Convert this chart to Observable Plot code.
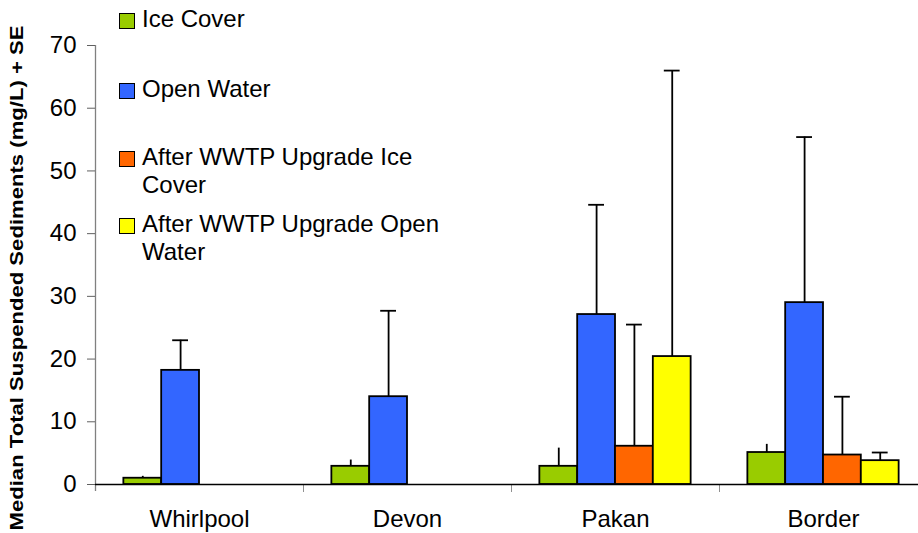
<!DOCTYPE html>
<html><head><meta charset="utf-8">
<script src="https://cdn.jsdelivr.net/npm/d3@7"></script>
<script src="https://cdn.jsdelivr.net/npm/@observablehq/plot@0.6"></script>
<style>
body{margin:0;background:#fff;}
#wrap{position:relative;width:918px;height:533px;overflow:hidden;font-family:"Liberation Sans",Arial,sans-serif;background:#fff;}
#wrap svg{position:absolute;left:0;top:0;}
.item{position:absolute;left:142px;font-size:24px;line-height:28px;color:#000;white-space:nowrap;}
.sw{position:absolute;left:-23px;top:8px;width:16px;height:16px;box-sizing:border-box;border:1.5px solid #000;}
</style></head><body><div id="wrap"></div>
<script>
// ---- data ----
const sites = ["Whirlpool", "Devon", "Pakan", "Border"];
const series = ["Ice Cover", "Open Water", "After WWTP Upgrade Ice Cover", "After WWTP Upgrade Open Water"];
const seriesColors = ["#99CC00", "#3366FF", "#FF6600", "#FFFF00"];
const seriesHasCap = [false, true, true, true];
const iceCover = [1.0, 2.9, 2.9, 5.1];
const openWater = [18.2, 14.0, 27.1, 29.0];
const afterIceCover = [null, null, 6.1, 4.7];
const afterOpenWater = [null, null, 20.4, 3.8];
const iceCoverSE = [0.3, 1.0, 2.9, 1.3];
const openWaterSE = [4.8, 13.7, 17.5, 26.4];
const afterIceCoverSE = [null, null, 19.4, 9.3];
const afterOpenWaterSE = [null, null, 45.6, 1.3];
const yTicks = [0, 10, 20, 30, 40, 50, 60, 70];
const yTitle = "Median Total Suspended Sediments (mg/L) + SE";
const legendLines = [["Ice Cover"], ["Open Water"], ["After WWTP Upgrade Ice", "Cover"], ["After WWTP Upgrade Open", "Water"]];
const legendTops = [5, 75, 143, 210];

// ---- build table ----
const values = [iceCover, openWater, afterIceCover, afterOpenWater];
const ses = [iceCoverSE, openWaterSE, afterIceCoverSE, afterOpenWaterSE];
const barFrac = 1 / 5.5, padFrac = 0.75 / 5.5; // Excel gap width 150%
const rows = sites.flatMap((site, i) => series.map((s, k) => ({site, i, k, series: s, value: values[k][i], se: ses[k][i]})))
  .filter(d => d.value != null)
  .map(d => {
    const x1 = d.i + padFrac + d.k * barFrac;
    return {...d, x1, x2: x1 + barFrac, xc: x1 + barFrac / 2, top: d.value + d.se};
  });

const chart = Plot.plot({
  width: 918, height: 533,
  marginLeft: 95, marginRight: -9, marginTop: 45, marginBottom: 49,
  x: {domain: [0, sites.length]},
  y: {domain: [0, 70]},
  color: {domain: series, range: seriesColors},
  style: {fontFamily: "'Liberation Sans', Arial, sans-serif", background: "white", color: "black"},
  marks: [
    Plot.ruleX([0], {stroke: "#808080", strokeWidth: 1.3, insetBottom: -7}),
    Plot.axisY({ticks: yTicks, tickSize: 8, tickPadding: 11, fontSize: 24, label: null, stroke: "#606060"}),
    Plot.axisX({ticks: d3.range(1, sites.length + 1), tickFormat: () => "", tickSize: 8, label: null, stroke: "#909090"}),
    Plot.axisX({ticks: sites.map((d, i) => i + 0.5), tickFormat: v => sites[Math.floor(v)], tickSize: 0, tickPadding: 25, fontSize: 24, label: null}),
    Plot.rectY(rows, {x1: "x1", x2: "x2", y: "value", fill: "series", stroke: "#000", strokeWidth: 1.8}),
    Plot.ruleX(rows, {x: "xc", y1: "value", y2: "top", stroke: "#000", strokeWidth: 1.8}),
    Plot.ruleY(rows.filter(d => seriesHasCap[d.k]), {x1: "x1", x2: "x2", y: "top", insetLeft: 11, insetRight: 11, stroke: "#000", strokeWidth: 1.8}),
    Plot.ruleY([0], {stroke: "#000", strokeWidth: 1.5}),
    Plot.text([yTitle], {frameAnchor: "left", rotate: -90, dx: -78, dy: 13, fontWeight: "bold", fontSize: 18, textAnchor: "middle", lineAnchor: "middle"})
  ]
});
const wrap = document.getElementById("wrap");
wrap.appendChild(chart);
d3.select(chart).selectAll("text").filter(function() { return this.textContent === yTitle; })
  .attr("textLength", 505).attr("lengthAdjust", "spacingAndGlyphs");

// ---- legend overlay ----
legendLines.forEach((lines, k) => {
  const item = document.createElement("div");
  item.className = "item";
  item.style.top = legendTops[k] + "px";
  const sw = document.createElement("div");
  sw.className = "sw";
  sw.style.background = seriesColors[k];
  item.appendChild(sw);
  lines.forEach((t, j) => {
    if (j) item.appendChild(document.createElement("br"));
    item.appendChild(document.createTextNode(t));
  });
  wrap.appendChild(item);
});
</script></body></html>
